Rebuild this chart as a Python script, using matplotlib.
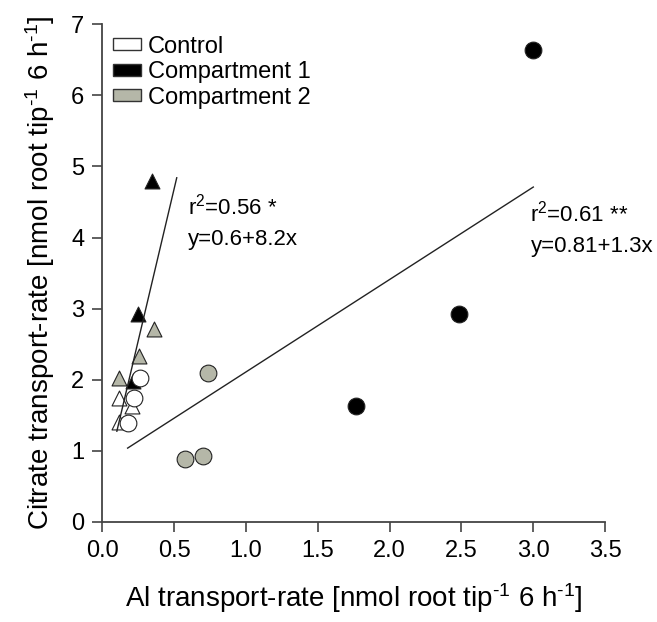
import numpy as np
import matplotlib
matplotlib.use("Agg")
import matplotlib.pyplot as plt
from matplotlib.patches import Patch

plt.rcParams['font.family'] = ['Liberation Sans', 'DejaVu Sans']
plt.rcParams['mathtext.fontset'] = 'custom'
plt.rcParams['mathtext.rm'] = 'Liberation Sans'
plt.rcParams['mathtext.it'] = 'Liberation Sans'
plt.rcParams['mathtext.bf'] = 'Liberation Sans:bold'

# --------------------------
# data
# --------------------------
groups = ['Control', 'Compartment 1', 'Compartment 2']
colors = ['white', 'black', '#b5b7a8']

# circles (one list per group)
circ_x = [[0.26, 0.22, 0.18], [3.00, 2.48, 1.765], [0.737, 0.574, 0.702]]
circ_y = [[2.03, 1.74, 1.39], [6.64, 2.93, 1.63], [2.10, 0.88, 0.93]]

# triangles
tri_x = [[0.117, 0.208, 0.117], [0.347, 0.25, 0.21], [0.36, 0.256, 0.115]]
tri_y = [[1.74, 1.63, 1.41], [4.79, 2.93, 1.98], [2.71, 2.34, 2.03]]

# regression lines: intercept, slope, x-range
fit_tri = (0.42, 8.55, [0.10, 0.517])
fit_circ = (0.81, 1.30, [0.175, 3.0])

xticks = [0.0, 0.5, 1.0, 1.5, 2.0, 2.5, 3.0, 3.5]
yticks = [0, 1, 2, 3, 4, 5, 6, 7]

# superscript -1 with a plain hyphen, as in the original
sup = r'$^{\mathrm{\u2010 1}}$'.replace(r'\u2010 ', '\u2010')
unit = f'[nmol root tip{sup} 6 h{sup}]'

# --------------------------
# plot
# --------------------------
fig = plt.figure(figsize=(6.57, 6.22), dpi=100)
ax = fig.add_axes([0.156, 0.161, 0.765, 0.800])

for x, y, c in zip(tri_x, tri_y, colors):
    ax.scatter(x, y, marker='^', s=115, c=c, edgecolors='#222222', linewidths=0.8, zorder=3)
for x, y, c in zip(circ_x, circ_y, colors):
    ax.scatter(x, y, marker='o', s=145, c=c, edgecolors='#222222', linewidths=0.8, zorder=3)

for b0, b1, xr in [fit_tri, fit_circ]:
    xr = np.array(xr)
    ax.plot(xr, b0 + b1 * xr, color='#222222', lw=1.0, zorder=4)

ax.text(0.598, 4.33, r'r$^{\mathrm{2}}$=0.56 *', fontsize=16)
ax.text(0.598, 3.90, 'y=0.6+8.2x', fontsize=16)
ax.text(2.98, 4.23, r'r$^{\mathrm{2}}$=0.61 **', fontsize=16)
ax.text(2.98, 3.80, 'y=0.81+1.3x', fontsize=16)

ax.set_xlim(0, 3.5)
ax.set_ylim(0, 7)
ax.set_xticks(xticks)
ax.set_xticklabels([f'{v:.1f}' for v in xticks])
ax.set_yticks(yticks)
for s in ['top', 'right']:
    ax.spines[s].set_visible(False)
for s in ['left', 'bottom']:
    ax.spines[s].set_color('#444444')
    ax.spines[s].set_linewidth(1.3)
ax.tick_params(direction='out', length=7, width=1.2, color='#444444', labelsize=17, pad=6)

ax.set_xlabel('Al transport-rate ' + unit, fontsize=20, labelpad=14)
ax.set_ylabel('Citrate transport-rate ' + unit, fontsize=20, labelpad=10)

handles = [Patch(facecolor=c, edgecolor='#333333', linewidth=1.0) for c in colors]
ax.legend(handles, groups, loc='upper left', bbox_to_anchor=(0.02, 0.977), frameon=False,
          fontsize=17, handlelength=1.2, handleheight=0.4, handletextpad=0.3,
          labelspacing=0.15, borderpad=0, borderaxespad=0)

fig.savefig('out.png', dpi=100)
